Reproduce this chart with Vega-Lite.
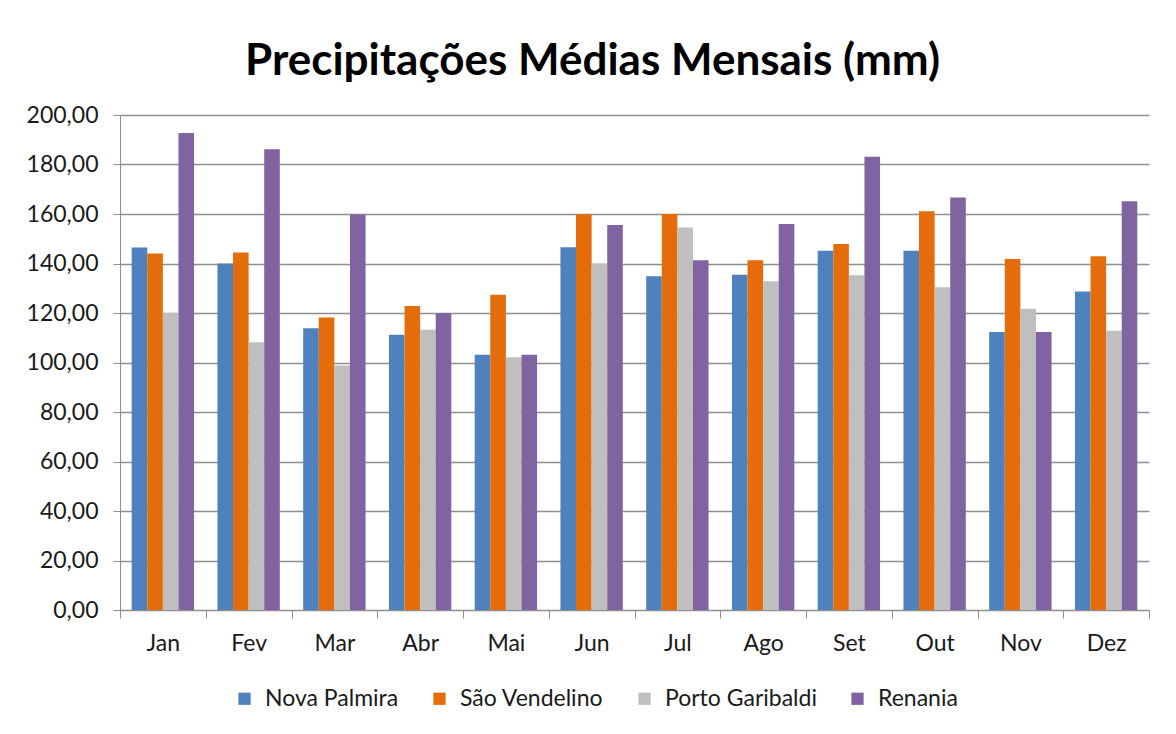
{
  "$schema": "https://vega.github.io/schema/vega-lite/v6.json",
  "autosize": "none",
  "width": 1029,
  "height": 495,
  "padding": {"left": 120, "top": 115, "right": 27, "bottom": 124},
  "background": "white",
  "config": {"view": {"stroke": null}, "font": "Lato"},
  "title": {
    "text": "Precipitações Médias Mensais (mm)",
    "font": "Lato",
    "fontSize": 44,
    "fontWeight": "bold",
    "color": "#000000",
    "anchor": "middle",
    "dx": -42,
    "offset": 20
  },
  "data": {
    "values": [
      {"mes": "Jan", "serie": "Nova Palmira", "v": 146.5},
      {"mes": "Jan", "serie": "São Vendelino", "v": 144.0},
      {"mes": "Jan", "serie": "Porto Garibaldi", "v": 120.0},
      {"mes": "Jan", "serie": "Renania", "v": 192.7},
      {"mes": "Fev", "serie": "Nova Palmira", "v": 140.0},
      {"mes": "Fev", "serie": "São Vendelino", "v": 144.4},
      {"mes": "Fev", "serie": "Porto Garibaldi", "v": 108.2},
      {"mes": "Fev", "serie": "Renania", "v": 186.2},
      {"mes": "Mar", "serie": "Nova Palmira", "v": 113.8},
      {"mes": "Mar", "serie": "São Vendelino", "v": 118.2},
      {"mes": "Mar", "serie": "Porto Garibaldi", "v": 98.8},
      {"mes": "Mar", "serie": "Renania", "v": 159.8},
      {"mes": "Abr", "serie": "Nova Palmira", "v": 111.2},
      {"mes": "Abr", "serie": "São Vendelino", "v": 122.8},
      {"mes": "Abr", "serie": "Porto Garibaldi", "v": 113.2},
      {"mes": "Abr", "serie": "Renania", "v": 120.0},
      {"mes": "Mai", "serie": "Nova Palmira", "v": 103.1},
      {"mes": "Mai", "serie": "São Vendelino", "v": 127.4},
      {"mes": "Mai", "serie": "Porto Garibaldi", "v": 102.1},
      {"mes": "Mai", "serie": "Renania", "v": 103.1},
      {"mes": "Jun", "serie": "Nova Palmira", "v": 146.6},
      {"mes": "Jun", "serie": "São Vendelino", "v": 159.9},
      {"mes": "Jun", "serie": "Porto Garibaldi", "v": 140.0},
      {"mes": "Jun", "serie": "Renania", "v": 155.6},
      {"mes": "Jul", "serie": "Nova Palmira", "v": 134.8},
      {"mes": "Jul", "serie": "São Vendelino", "v": 160.0},
      {"mes": "Jul", "serie": "Porto Garibaldi", "v": 154.5},
      {"mes": "Jul", "serie": "Renania", "v": 141.3},
      {"mes": "Ago", "serie": "Nova Palmira", "v": 135.5},
      {"mes": "Ago", "serie": "São Vendelino", "v": 141.3},
      {"mes": "Ago", "serie": "Porto Garibaldi", "v": 132.8},
      {"mes": "Ago", "serie": "Renania", "v": 156.0},
      {"mes": "Set", "serie": "Nova Palmira", "v": 145.2},
      {"mes": "Set", "serie": "São Vendelino", "v": 147.9},
      {"mes": "Set", "serie": "Porto Garibaldi", "v": 135.3},
      {"mes": "Set", "serie": "Renania", "v": 183.1},
      {"mes": "Out", "serie": "Nova Palmira", "v": 145.2},
      {"mes": "Out", "serie": "São Vendelino", "v": 161.1},
      {"mes": "Out", "serie": "Porto Garibaldi", "v": 130.4},
      {"mes": "Out", "serie": "Renania", "v": 166.7},
      {"mes": "Nov", "serie": "Nova Palmira", "v": 112.3},
      {"mes": "Nov", "serie": "São Vendelino", "v": 141.8},
      {"mes": "Nov", "serie": "Porto Garibaldi", "v": 121.7},
      {"mes": "Nov", "serie": "Renania", "v": 112.3},
      {"mes": "Dez", "serie": "Nova Palmira", "v": 128.7},
      {"mes": "Dez", "serie": "São Vendelino", "v": 142.9},
      {"mes": "Dez", "serie": "Porto Garibaldi", "v": 112.8},
      {"mes": "Dez", "serie": "Renania", "v": 165.2}
    ]
  },
  "mark": {"type": "bar"},
  "encoding": {
    "x": {
      "field": "mes",
      "type": "nominal",
      "sort": ["Jan","Fev","Mar","Abr","Mai","Jun","Jul","Ago","Set","Out","Nov","Dez"],
      "scale": {"paddingInner": 0, "paddingOuter": 0},
      "axis": {
        "title": null,
        "labelAngle": 0,
        "labelFont": "Lato",
        "labelFontSize": 23,
        "labelColor": "#1a1a1a",
        "labelPadding": 14,
        "tickBand": "extent",
        "tickSize": 8,
        "tickColor": "#8f8f8f",
        "domainColor": "#8f8f8f",
        "grid": false
      }
    },
    "xOffset": {
      "field": "serie",
      "type": "nominal",
      "sort": ["Nova Palmira","São Vendelino","Porto Garibaldi","Renania"],
      "scale": {"paddingInner": 0, "paddingOuter": 0.75}
    },
    "y": {
      "field": "v",
      "type": "quantitative",
      "scale": {"domain": [0, 200], "nice": false},
      "axis": {
        "title": null,
        "values": [0,20,40,60,80,100,120,140,160,180,200],
        "labelExpr": "replace(format(datum.value, '.2f'), '.', ',')",
        "labelFont": "Lato",
        "labelFontSize": 23,
        "labelColor": "#1a1a1a",
        "labelPadding": 15,
        "tickSize": 7,
        "tickColor": "#8f8f8f",
        "domainColor": "#8f8f8f",
        "gridColor": "#8f8f8f",
        "gridWidth": 1.3
      }
    },
    "color": {
      "field": "serie",
      "type": "nominal",
      "sort": ["Nova Palmira","São Vendelino","Porto Garibaldi","Renania"],
      "scale": {
        "domain": ["Nova Palmira","São Vendelino","Porto Garibaldi","Renania"],
        "range": ["#4F81BD","#E46C0A","#BFBFBF","#8064A2"]
      },
      "legend": {
        "title": null,
        "orient": "none",
        "direction": "horizontal",
        "legendX": 113,
        "legendY": 572,
        "symbolType": "square",
        "symbolSize": 150,
        "symbolStrokeWidth": 0,
        "labelFont": "Lato",
        "labelFontSize": 23,
        "labelColor": "#1a1a1a",
        "labelOffset": 9,
        "columnPadding": 29
      }
    }
  }
}
